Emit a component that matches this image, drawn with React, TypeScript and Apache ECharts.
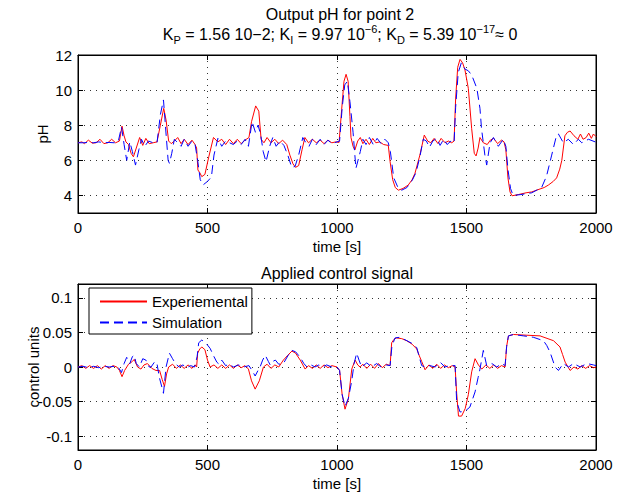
import React, { useEffect, useRef } from "react";
import * as echarts from "echarts";

// ---------- data ----------
const phExperimental: [number, number][] = [
  [0, 7.0], [15, 7.05], [25, 6.95], [40, 7.15], [55, 6.98], [70, 7.0], [85, 7.2], [100, 6.95], [115, 7.0], [130, 7.2],
  [145, 7.0], [160, 7.1], [170, 7.95], [178, 7.4], [185, 7.05], [195, 6.9], [205, 6.4], [214, 6.2], [225, 6.7], [238, 7.3],
  [250, 6.85], [262, 7.25], [275, 6.95], [290, 7.0], [305, 7.05], [318, 8.0], [331, 8.96], [340, 8.3], [350, 7.1], [360, 6.95],
  [372, 7.1], [385, 7.3], [398, 6.95], [410, 7.2], [425, 6.9], [440, 7.15], [452, 6.9], [458, 6.7], [463, 5.45], [470, 5.3],
  [478, 5.07], [490, 5.2], [505, 6.2], [523, 7.3], [540, 7.05], [555, 7.2], [570, 6.9], [585, 7.2], [600, 6.95], [615, 7.2],
  [630, 6.95], [645, 7.15], [660, 7.3], [670, 8.2], [686, 9.1], [698, 8.8], [707, 7.2], [718, 7.0], [730, 7.3], [745, 7.0],
  [760, 7.2], [775, 6.95], [790, 7.15], [806, 6.9], [818, 6.3], [830, 5.8], [840, 5.6], [852, 5.7], [865, 6.6], [876, 7.3],
  [890, 7.0], [905, 7.2], [920, 7.0], [935, 7.15], [950, 6.95], [965, 7.15], [980, 7.0], [995, 7.05], [1008, 7.02], [1018, 8.9],
  [1027, 10.5], [1035, 10.9], [1043, 10.5], [1050, 8.5], [1054, 7.3], [1062, 6.8], [1069, 6.59], [1080, 7.1], [1090, 7.3], [1100, 6.95],
  [1112, 7.2], [1125, 6.9], [1138, 7.25], [1150, 7.0], [1165, 7.05], [1180, 6.9], [1198, 6.85], [1205, 5.92], [1215, 4.9], [1225, 4.45],
  [1237, 4.3], [1255, 4.4], [1275, 4.59], [1290, 4.9], [1301, 5.26], [1320, 6.3], [1337, 7.44], [1350, 7.1], [1362, 7.0], [1375, 7.25],
  [1390, 6.95], [1402, 7.25], [1417, 7.0], [1430, 7.1], [1443, 7.0], [1452, 7.1], [1458, 9.5], [1466, 11.3], [1475, 11.75], [1485, 11.55],
  [1494, 11.15], [1507, 10.1], [1520, 7.8], [1530, 6.4], [1537, 6.25], [1545, 6.7], [1552, 7.3], [1565, 7.0], [1580, 6.9], [1592, 7.15],
  [1605, 7.25], [1620, 6.95], [1635, 7.15], [1645, 7.05], [1652, 6.6], [1660, 5.0], [1668, 4.2], [1676, 3.98], [1700, 4.05], [1730, 4.15],
  [1752, 4.2], [1780, 4.35], [1800, 4.45], [1816, 4.59], [1835, 4.8], [1848, 5.0], [1860, 5.5], [1868, 6.0], [1880, 7.4], [1890, 7.6],
  [1900, 7.67], [1915, 7.4], [1930, 7.2], [1940, 7.5], [1950, 7.2], [1962, 7.3], [1972, 7.55], [1982, 7.25], [1990, 7.5], [2000, 7.35],
];

const phSimulation: [number, number][] = [
  [0, 7.0], [20, 7.0], [40, 7.02], [60, 7.0], [80, 7.05], [100, 7.0], [120, 7.02], [140, 7.0], [155, 7.05], [168, 7.9],
  [178, 6.9], [188, 6.0], [200, 7.05], [210, 6.5], [222, 5.73], [235, 6.6], [245, 7.2], [258, 6.8], [272, 7.1], [290, 7.0],
  [305, 7.0], [318, 8.6], [330, 9.44], [340, 7.5], [348, 6.0], [353, 5.83], [362, 6.4], [372, 7.2], [385, 7.0], [398, 6.8],
  [410, 7.2], [425, 6.8], [440, 7.1], [452, 6.9], [462, 6.0], [472, 4.9], [483, 4.6], [500, 4.8], [515, 5.05], [525, 6.3],
  [540, 7.25], [555, 6.8], [570, 7.1], [585, 7.0], [600, 6.9], [615, 7.1], [630, 6.9], [645, 7.2], [658, 6.8], [672, 8.2],
  [685, 7.6], [695, 8.0], [705, 7.5], [715, 6.5], [726, 5.92], [740, 6.8], [752, 7.3], [765, 6.8], [780, 7.1], [795, 6.85],
  [810, 6.3], [825, 5.6], [838, 5.65], [852, 6.3], [868, 7.3], [880, 7.0], [892, 6.8], [905, 7.2], [920, 6.9], [935, 7.2],
  [950, 6.9], [965, 7.15], [980, 6.95], [1000, 7.05], [1010, 7.1], [1020, 9.0], [1030, 10.3], [1040, 10.5], [1050, 9.34], [1062, 7.6],
  [1073, 5.54], [1090, 6.5], [1100, 7.2], [1112, 6.9], [1125, 7.3], [1140, 6.9], [1155, 7.25], [1170, 6.95], [1185, 7.2], [1198, 7.0],
  [1206, 6.5], [1219, 5.0], [1237, 4.4], [1250, 4.3], [1270, 4.45], [1290, 4.85], [1305, 5.3], [1320, 6.2], [1333, 7.2], [1345, 7.1],
  [1357, 6.75], [1370, 7.1], [1385, 7.25], [1398, 6.85], [1412, 7.2], [1425, 6.9], [1440, 7.1], [1452, 7.0], [1458, 9.0], [1468, 11.0],
  [1480, 11.55], [1494, 11.2], [1507, 11.1], [1520, 10.86], [1540, 10.1], [1552, 8.96], [1558, 7.8], [1571, 6.3], [1578, 5.73], [1591, 7.0],
  [1604, 7.3], [1623, 6.8], [1642, 7.2], [1652, 6.8], [1660, 5.5], [1670, 4.4], [1680, 4.0], [1710, 4.05], [1752, 4.15], [1790, 4.45],
  [1809, 5.1], [1829, 6.3], [1848, 7.45], [1855, 7.5], [1874, 7.0], [1893, 7.2], [1913, 6.9], [1932, 7.2], [1945, 7.0], [1971, 7.2],
  [1997, 7.05], [2000, 7.05],
];

const uExperimental: [number, number][] = [
  [0, 0], [15, 0.002], [30, -0.002], [45, 0.002], [60, -0.002], [75, 0.002], [90, -0.003], [105, 0.002], [120, -0.002], [135, 0.002],
  [150, 0.0], [160, -0.005], [170, -0.014], [180, -0.005], [195, 0.004], [210, 0.008], [217, 0.011], [230, 0.0], [243, -0.003], [255, 0.003],
  [268, 0.005], [285, -0.002], [301, -0.005], [315, -0.005], [325, -0.018], [334, -0.028], [342, -0.01], [350, 0.0], [365, 0.004], [380, -0.002],
  [395, 0.003], [410, -0.002], [425, 0.003], [440, -0.002], [452, 0.003], [458, 0.0], [462, 0.02], [470, 0.026], [478, 0.029], [490, 0.025],
  [500, 0.01], [510, 0.0], [525, 0.003], [540, -0.002], [555, 0.003], [570, -0.002], [585, 0.003], [600, -0.002], [615, 0.003], [630, -0.001],
  [645, 0.002], [658, -0.003], [670, -0.02], [684, -0.032], [700, -0.02], [716, 0.0], [730, 0.004], [745, -0.002], [760, 0.003], [775, 0.0],
  [793, 0.01], [810, 0.017], [826, 0.023], [840, 0.02], [858, 0.01], [877, -0.003], [890, 0.002], [905, -0.002], [920, 0.003], [935, -0.002],
  [950, 0.003], [965, -0.001], [980, 0.002], [1000, 0.0], [1010, -0.005], [1020, -0.04], [1031, -0.061], [1044, -0.046], [1057, -0.003], [1070, 0.01],
  [1080, 0.003], [1089, 0.0], [1100, 0.004], [1115, -0.002], [1130, 0.004], [1145, -0.002], [1160, 0.005], [1175, -0.001], [1190, 0.004], [1205, 0.002],
  [1211, 0.035], [1220, 0.04], [1230, 0.042], [1250, 0.041], [1269, 0.038], [1290, 0.033], [1308, 0.026], [1318, 0.016], [1327, 0.008], [1340, -0.004],
  [1355, 0.003], [1370, -0.002], [1385, 0.004], [1400, -0.002], [1415, 0.003], [1430, -0.001], [1445, 0.002], [1456, 0.0], [1462, -0.038], [1469, -0.071],
  [1481, -0.071], [1495, -0.06], [1507, -0.04], [1520, -0.007], [1533, 0.012], [1546, 0.003], [1559, -0.003], [1575, 0.003], [1590, -0.002], [1605, 0.003],
  [1620, -0.002], [1635, 0.002], [1649, 0.0], [1655, 0.03], [1662, 0.045], [1681, 0.047], [1730, 0.046], [1784, 0.045], [1836, 0.038], [1861, 0.029],
  [1871, 0.018], [1881, 0.007], [1900, -0.005], [1915, 0.0], [1930, -0.003], [1945, 0.002], [1960, -0.002], [1975, 0.002], [1990, -0.001], [2000, 0.0],
];

const uSimulation: [number, number][] = [
  [0, 0], [20, 0.001], [40, -0.001], [60, 0.001], [80, -0.001], [100, 0.001], [120, 0.0], [140, 0.001], [155, 0.0], [168, -0.008],
  [178, 0.005], [188, 0.014], [200, 0.005], [210, 0.015], [217, 0.017], [225, 0.005], [237, 0.0], [250, 0.012], [262, 0.01], [275, 0.0],
  [282, 0.0], [295, 0.007], [304, 0.007], [314, -0.015], [330, -0.038], [340, 0.0], [353, 0.02], [365, 0.012], [378, 0.004], [391, 0.0],
  [405, 0.003], [420, -0.001], [435, 0.002], [450, 0.0], [460, 0.015], [466, 0.035], [478, 0.039], [495, 0.034], [510, 0.027], [525, 0.015],
  [536, 0.007], [545, 0.004], [555, 0.01], [570, 0.002], [585, 0.004], [600, 0.0], [620, 0.003], [640, 0.0], [660, 0.002], [672, -0.005],
  [684, -0.013], [695, -0.005], [703, 0.0], [713, 0.01], [723, 0.017], [735, 0.008], [742, 0.003], [752, 0.008], [762, 0.01], [775, 0.004],
  [793, 0.005], [810, 0.016], [826, 0.024], [840, 0.022], [858, 0.014], [872, 0.005], [884, 0.0], [900, 0.003], [915, 0.0], [930, 0.003],
  [945, 0.0], [960, 0.003], [980, 0.0], [1000, 0.0], [1010, -0.005], [1020, -0.04], [1031, -0.057], [1044, -0.045], [1057, -0.02], [1066, 0.005],
  [1076, 0.02], [1085, 0.01], [1095, 0.0], [1115, 0.006], [1134, 0.0], [1153, 0.005], [1170, 0.0], [1190, 0.003], [1205, 0.002], [1212, 0.03],
  [1224, 0.042], [1243, 0.043], [1270, 0.038], [1290, 0.034], [1308, 0.028], [1318, 0.014], [1327, 0.002], [1340, 0.0], [1359, 0.002], [1379, 0.0],
  [1398, 0.007], [1417, 0.0], [1435, 0.002], [1456, 0.002], [1462, -0.05], [1475, -0.065], [1494, -0.064], [1513, -0.058], [1533, -0.036], [1545, -0.015],
  [1552, -0.003], [1565, 0.024], [1578, 0.002], [1598, 0.005], [1617, 0.0], [1636, 0.005], [1649, 0.002], [1655, 0.03], [1662, 0.045], [1681, 0.047],
  [1720, 0.045], [1758, 0.043], [1797, 0.038], [1810, 0.031], [1823, 0.021], [1842, 0.0], [1855, -0.005], [1874, 0.005], [1894, 0.0], [1913, 0.005],
  [1939, 0.0], [1965, 0.005], [1990, 0.003], [2000, 0.002],
];

const phTicks = [4, 6, 8, 10, 12];
const uTicks = [-0.1, -0.05, 0, 0.05, 0.1];
const seriesNames = ["Experiemental", "Simulation"];

// ---------- styling ----------
const FONT = "'Liberation Sans', Arial, Helvetica, sans-serif";
const FS = 15;
const TFS = 16;
const G0 = { left: 78, top: 55, width: 518, height: 158 };
const G1 = { left: 78, top: 284, width: 518, height: 166 };
const CX = G0.left + G0.width / 2;

function measure(text: string, size: number): number {
  const ctx = document.createElement("canvas").getContext("2d")!;
  ctx.font = `${size}px 'Liberation Sans'`;
  return ctx.measureText(text).width;
}

function titleLine2(): any[] {
  const main = TFS;
  const small = 11;
  const segs = [
    { t: "K", s: main, dy: 0 },
    { t: "P", s: small, dy: 6 },
    { t: " = 1.56 10\u22122; K", s: main, dy: 0 },
    { t: "I", s: small, dy: 6 },
    { t: " = 9.97 10", s: main, dy: 0 },
    { t: "\u22126", s: small, dy: -5 },
    { t: "; K", s: main, dy: 0 },
    { t: "D", s: small, dy: 6 },
    { t: " = 5.39 10", s: main, dy: 0 },
    { t: "\u221217", s: small, dy: -5 },
    { t: "\u2248 0", s: main, dy: 0 },
  ];
  const widths = segs.map((g) => measure(g.t, g.s));
  const total = widths.reduce((a, b) => a + b, 0);
  let x = CX + 3 - total / 2;
  const out: any[] = [];
  segs.forEach((g, i) => {
    out.push({
      type: "text",
      x,
      y: 34 + g.dy,
      style: {
        text: g.t,
        fontSize: g.s,
        fontFamily: FONT,
        fill: "#000",
        textAlign: "left",
        textVerticalAlign: "middle",
        align: "left",
        verticalAlign: "middle",
      },
    });
    x += widths[i];
  });
  return out;
}

const centerText = (text: string, x: number, y: number, size: number, rotation = 0) => ({
  type: "text",
  x,
  y,
  rotation,
  style: {
    text,
    fontSize: size,
    fontFamily: FONT,
    fill: "#000",
    textAlign: "center",
    textVerticalAlign: "middle",
    align: "center",
    verticalAlign: "middle",
  },
});

function xAxis(gi: number, main: boolean) {
  return {
    type: "value",
    gridIndex: gi,
    min: 0,
    max: 2000,
    interval: 500,
    position: main ? "bottom" : "top",
    axisLine: { show: true, onZero: false, lineStyle: { color: "#000", width: 1 } },
    axisTick: { show: true, inside: true, length: 5, lineStyle: { color: "#000" } },
    axisLabel: {
      show: main,
      color: "#000",
      fontSize: FS,
      fontFamily: FONT,
      margin: 7,
      formatter: (v: number) => String(v),
    },
    splitLine: { show: main, lineStyle: { color: "#333", type: [1, 5], width: 1 } },
    name: main ? "time [s]" : "",
    nameLocation: "middle",
    nameGap: 26,
    nameTextStyle: { color: "#000", fontSize: FS, fontFamily: FONT },
  };
}

function yAxis(gi: number, main: boolean, min: number, max: number, ticks: number[]) {
  return {
    type: "value",
    gridIndex: gi,
    min,
    max,
    position: main ? "left" : "right",
    axisLine: { show: true, onZero: false, lineStyle: { color: "#000", width: 1 } },
    axisTick: { show: true, inside: true, length: 5, customValues: ticks, lineStyle: { color: "#000" } },
    axisLabel: {
      show: main,
      customValues: ticks,
      color: "#000",
      fontSize: FS,
      fontFamily: FONT,
      margin: 6,
      formatter: (v: number) => String(v),
    },
    splitLine: { show: main, lineStyle: { color: "#333", type: [1, 5], width: 1 } },
  };
}

const line = (name: string, data: [number, number][], gi: number, color: string, dashed: boolean) => ({
  type: "line",
  name,
  xAxisIndex: gi * 2,
  yAxisIndex: gi * 2,
  data,
  symbol: "none",
  showSymbol: false,
  legendIcon: "none",
  lineStyle: { color, width: 1, type: dashed ? [9, 5] : "solid" },
  itemStyle: { color },
});

export default function App() {
  const ref = useRef<HTMLDivElement>(null);
  useEffect(() => {
    if (!ref.current) return;
    const chart = echarts.init(ref.current, undefined, { renderer: "svg" });
    chart.setOption({
      animation: false,
      backgroundColor: "#fff",
      grid: [
        { ...G0, show: true, borderColor: "#000", borderWidth: 1, backgroundColor: "#fff", containLabel: false },
        { ...G1, show: true, borderColor: "#000", borderWidth: 1, backgroundColor: "#fff", containLabel: false },
      ],
      xAxis: [xAxis(0, true), xAxis(0, false), xAxis(1, true), xAxis(1, false)],
      yAxis: [
        yAxis(0, true, 3, 12, phTicks),
        yAxis(0, false, 3, 12, phTicks),
        yAxis(1, true, -0.12, 0.12, uTicks),
        yAxis(1, false, -0.12, 0.12, uTicks),
      ],
      legend: {
        data: seriesNames,
        orient: "vertical",
        left: 89,
        top: 288,
        backgroundColor: "#fff",
        borderColor: "#000",
        borderWidth: 1,
        borderRadius: 0,
        padding: [6, 4, 4, 10],
        itemGap: 6,
        itemWidth: 47,
        itemHeight: 14,
        itemStyle: { opacity: 0 },
        textStyle: { color: "#000", fontSize: FS, fontFamily: FONT },
      },
      series: [
        line(seriesNames[0], phExperimental, 0, "#ff0000", false),
        line(seriesNames[1], phSimulation, 0, "#0000ff", true),
        line(seriesNames[0], uExperimental, 1, "#ff0000", false),
        line(seriesNames[1], uSimulation, 1, "#0000ff", true),
      ],
      graphic: [
        centerText("Output pH for point 2", CX + 3, 14, TFS),
        ...titleLine2(),
        centerText("Applied control signal", CX, 273, TFS),
        centerText("pH", 42, G0.top + G0.height / 2, FS, Math.PI / 2),
        centerText("control units", 33, G1.top + G1.height / 2, FS, Math.PI / 2),
      ],
    });
    return () => chart.dispose();
  }, []);
  return (
    <div
      ref={ref}
      style={{ position: "fixed", left: 0, top: 0, width: 623, height: 496, background: "#fff" }}
    />
  );
}
